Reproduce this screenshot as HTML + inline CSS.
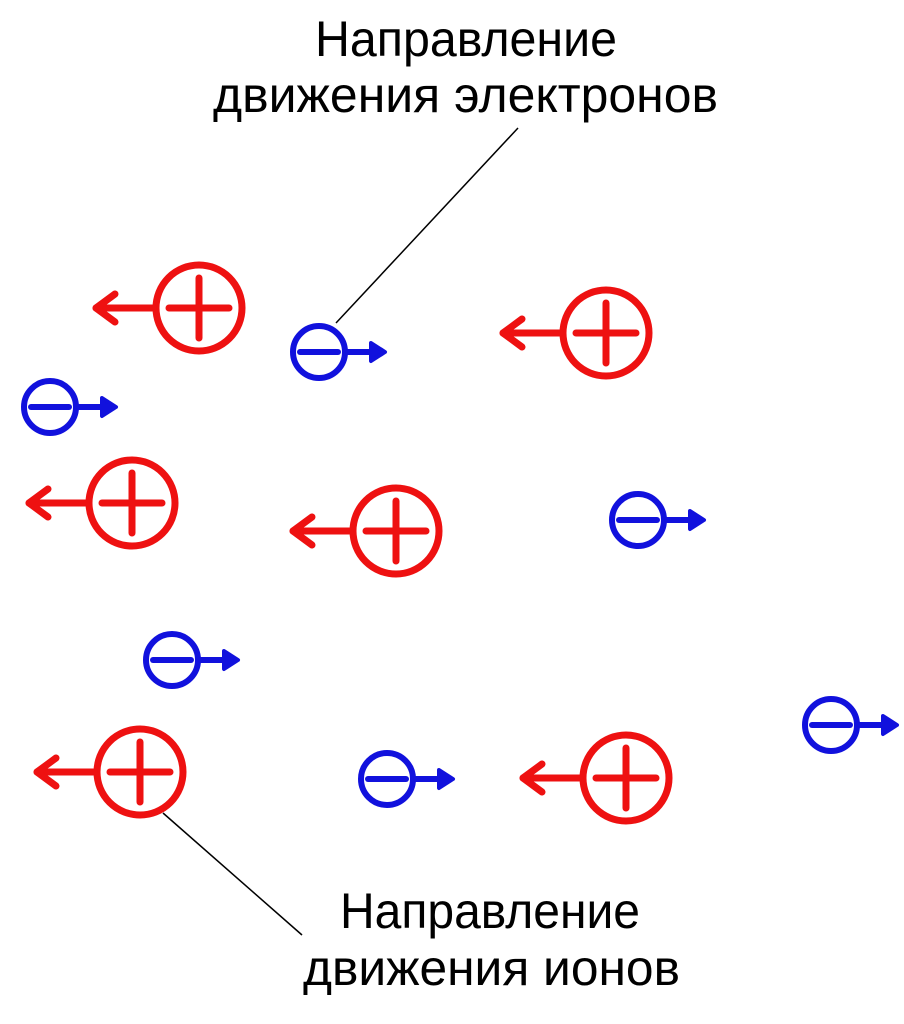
<!DOCTYPE html>
<html><head><meta charset="utf-8"><style>html,body{margin:0;padding:0;background:#fff}svg{display:block}</style></head>
<body>
<svg width="904" height="1024" viewBox="0 0 904 1024" xmlns="http://www.w3.org/2000/svg">
<g font-family="Liberation Sans, sans-serif" font-size="50" fill="#000">
<text x="315" y="56" textLength="302" lengthAdjust="spacingAndGlyphs">Направление</text>
<text x="213" y="112" textLength="505" lengthAdjust="spacingAndGlyphs">движения электронов</text>
<text x="340" y="928" textLength="300" lengthAdjust="spacingAndGlyphs">Направление</text>
<text x="303" y="985" textLength="377" lengthAdjust="spacingAndGlyphs">движения ионов</text>
</g>
<g stroke="#000" stroke-width="1.5">
<line x1="336" y1="323" x2="518" y2="128"/>
<line x1="163" y1="813" x2="302" y2="935"/>
</g>
<defs>
<g id="pos" fill="none" stroke="#ee1111" stroke-width="7" stroke-linecap="round" stroke-linejoin="round">
<circle cx="0" cy="0" r="43"/>
<line x1="-30" y1="0" x2="30" y2="0"/>
<line x1="0" y1="-30" x2="0" y2="30"/>
<line x1="-46" y1="0" x2="-103" y2="0"/>
<polyline points="-84,-14 -103,0 -84,14"/>
</g>
<g id="neg" fill="none" stroke="#1111dd" stroke-width="6" stroke-linecap="round">
<circle cx="0" cy="0" r="26"/>
<line x1="-19" y1="0" x2="19" y2="0"/>
<line x1="29" y1="0" x2="55" y2="0"/>
<polygon points="52,-9 66,0 52,9" fill="#1111dd" stroke-linejoin="round" stroke-width="4"/>
</g>
</defs>
<use href="#pos" x="199" y="308"/>
<use href="#pos" x="606" y="333"/>
<use href="#pos" x="132" y="503"/>
<use href="#pos" x="396" y="531"/>
<use href="#pos" x="140" y="772"/>
<use href="#pos" x="626" y="778"/>
<use href="#neg" x="319" y="352"/>
<use href="#neg" x="50" y="407"/>
<use href="#neg" x="638" y="520"/>
<use href="#neg" x="172" y="660"/>
<use href="#neg" x="387" y="779"/>
<use href="#neg" x="831" y="725"/>
</svg>
</body></html>
